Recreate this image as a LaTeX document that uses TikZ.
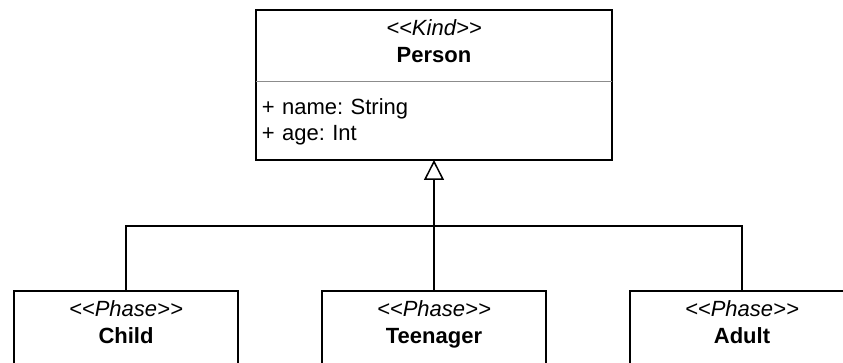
\documentclass[tikz,border=0pt]{standalone}
\usepackage{fontspec}
\setmainfont{Liberation Sans}
\frenchspacing
\usetikzlibrary{positioning,arrows.meta}

\begin{document}
\begin{tikzpicture}[x=0.5pt,y=-0.5pt,
    every node/.append style={font=\fontsize{11}{13.5}\selectfont},
    head/.style={rectangle, draw=none, inner sep=0pt, outer sep=0pt, minimum width=178pt, align=center},
    phase/.style={rectangle, draw=black, line width=1pt, inner sep=0pt, outer sep=0pt, minimum width=112pt, align=center},
    gen/.style={line width=0.75pt, -{Triangle[open, length=10pt, width=10pt]}}]

    \path[use as bounding box, clip] (0,0) rectangle (843,363);

    \node(person-head)[head] at (434,46) {\rule{0pt}{13pt}\textit{<{}<Kind>{}>}\\\rule[-9.5pt]{0pt}{9.5pt}\textbf{Person}};
    \node(person-attr)[head, below=0pt of person-head, text width=172pt, inner xsep=3pt, align=left,
        font=\fontsize{11}{13}\selectfont] {\rule{0pt}{16.5pt}+ name: String\\\rule[-9.5pt]{0pt}{9.5pt}+ age: Int};

    \node(teen)[phase, below=65.5pt of person-attr] {\rule{0pt}{13pt}\textit{<{}<Phase>{}>}\\\rule[-16pt]{0pt}{16pt}\textbf{Teenager}};
    \node(child)[phase, left=42pt of teen] {\rule{0pt}{13pt}\textit{<{}<Phase>{}>}\\\rule[-16pt]{0pt}{16pt}\textbf{Child}};
    \node(adult)[phase, right=42pt of teen] {\rule{0pt}{13pt}\textit{<{}<Phase>{}>}\\\rule[-16pt]{0pt}{16pt}\textbf{Adult}};

    \draw[line width=1pt] (person-head.north west) rectangle (person-attr.south east);
    \draw[black!45, line width=0.5pt] (person-head.south west) -- (person-head.south east);

    \coordinate (joint) at (434,226);
    \draw[line width=0.75pt] (child.north) |- (joint) -| (adult.north);
    \draw[gen] (teen.north) -- (person-attr.south);
\end{tikzpicture}
\end{document}
